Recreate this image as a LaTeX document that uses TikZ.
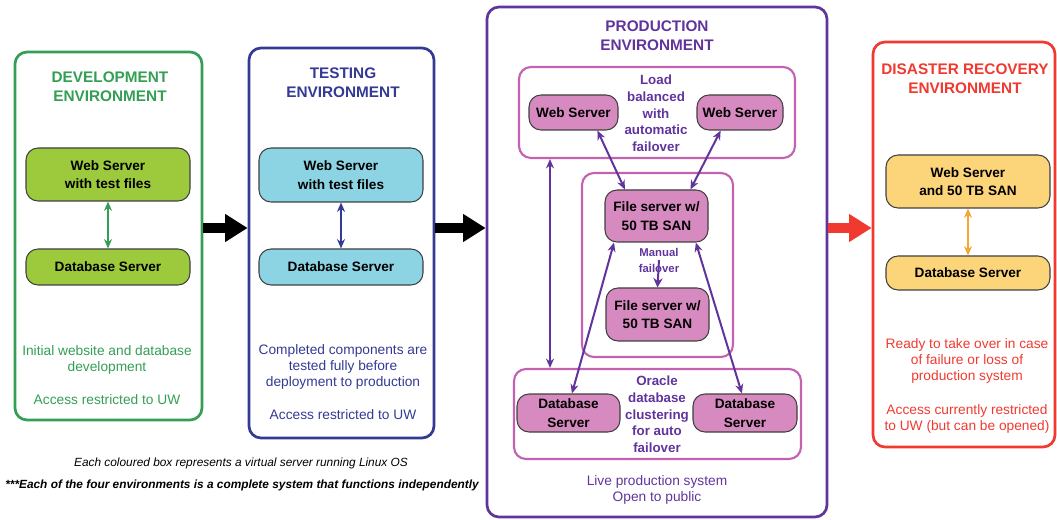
\documentclass[tikz,border=0pt]{standalone}
\usepackage{fontspec}
\setmainfont{Liberation Sans}
\usetikzlibrary{arrows.meta,fit}

\definecolor{devgreen}{RGB}{52,158,84}
\definecolor{devfill}{RGB}{156,202,60}
\definecolor{testblue}{RGB}{52,58,148}
\definecolor{testfill}{RGB}{140,212,228}
\definecolor{prodpurple}{RGB}{96,52,156}
\definecolor{prodpink}{RGB}{196,98,178}
\definecolor{prodfill}{RGB}{214,138,192}
\definecolor{drred}{RGB}{240,58,48}
\definecolor{drfill}{RGB}{252,212,122}
\definecolor{drorange}{RGB}{244,166,52}

\tikzset{
	envbox/.style={draw=#1, line width=2pt, rounded corners=9pt, inner sep=0pt},
	groupbox/.style={draw=prodpink, line width=1.6pt, rounded corners=9pt, inner sep=0pt},
	server/.style={draw=black!75, line width=0.8pt, fill=#1, rounded corners=9pt,
		align=center, inner sep=0pt, font=\fontsize{10.2}{14}\selectfont\bfseries},
	envtitle/.style={text=#1, align=center, font=\fontsize{11.5}{14.25}\selectfont\bfseries},
	envnote/.style={text=#1, align=center, font=\fontsize{10.3}{12}\selectfont},
	groupnote/.style={text=prodpurple, align=center, font=\fontsize{10}{12.5}\selectfont\bfseries},
	footnote/.style={align=center, font=\fontsize{8.9}{10}\selectfont\itshape},
	link/.style={{Stealth[length=7pt,width=6pt]}-{Stealth[length=7pt,width=6pt]}, draw=#1, line width=1.5pt},
	flow/.style={-{Triangle[length=17pt,width=20pt]}, draw=#1, line width=7pt},
}

\begin{document}
\begin{tikzpicture}[x=0.75pt, y=-0.75pt]
	\useasboundingbox (0,0) rectangle (1057,520);

	% Umgebungen
	\node[envbox=devgreen, fit={(15,52) (202,420)}] (dev) {};
	\node[envbox=testblue, fit={(249,48) (434,438)}] (test) {};
	\node[envbox=prodpurple, fit={(487,7) (827,517)}] (prod) {};
	\node[envbox=drred, fit={(873,42) (1055,447)}] (dr) {};

	% Titel
	\node[envtitle=devgreen] (devtitle) at (110,87) {DEVELOPMENT\\ENVIRONMENT};
	\node[envtitle=testblue] (testtitle) at (343,83) {TESTING\\ENVIRONMENT};
	\node[envtitle=prodpurple] (prodtitle) at (657,36) {PRODUCTION\\ENVIRONMENT};
	\node[envtitle=drred] (drtitle) at (965,79) {DISASTER RECOVERY\\ENVIRONMENT};

	% Entwicklung
	\node[server=devfill, minimum width=123pt, minimum height=39.75pt] (devweb) at (108,174.5)
		{Web Server\\with test files};
	\node[server=devfill, minimum width=123pt, minimum height=27pt] (devdb) at (108,267)
		{Database Server};
	\draw[link=devgreen] (devweb) -- (devdb);
	\node[envnote=devgreen] (devnote) at (107,359.5) {Initial website and database\\development};
	\node[envnote=devgreen] (devaccess) at (107,400) {Access restricted to UW};

	% Test
	\node[server=testfill, minimum width=123pt, minimum height=40.5pt] (testweb) at (341,175)
		{Web Server\\with test files};
	\node[server=testfill, minimum width=123pt, minimum height=27pt] (testdb) at (341,267)
		{Database Server};
	\draw[link=testblue] (testweb) -- (testdb);
	\node[envnote=testblue] (testnote) at (343,367)
		{Completed components are\\tested fully before\\deployment to production};
	\node[envnote=testblue] (testaccess) at (343,415) {Access restricted to UW};

	% Produktion: Gruppen
	\node[groupbox, fit={(519,67) (795,158)}] (upper) {};
	\node[groupbox, fit={(582,173) (733,357)}] (middle) {};
	\node[groupbox, fit={(514,369) (801,459)}] (lower) {};

	% Produktion: Server
	\node[server=prodfill, minimum width=66.75pt, minimum height=26.25pt] (webl) at (573.5,112.5) {Web Server};
	\node[server=prodfill, minimum width=64.5pt, minimum height=26.25pt] (webr) at (740,112.5) {Web Server};
	\node[server=prodfill, minimum width=77.25pt, minimum height=39pt] (file1) at (656.5,216)
		{File server w/\\50 TB SAN};
	\node[server=prodfill, minimum width=77.25pt, minimum height=39.75pt] (file2) at (657.5,314.5)
		{File server w/\\50 TB SAN};
	\node[server=prodfill, minimum width=77.25pt, minimum height=28.5pt] (dbl) at (568.5,413)
		{Database\\Server};
	\node[server=prodfill, minimum width=78pt, minimum height=28.5pt] (dbr) at (745,413)
		{Database\\Server};

	% Produktion: Texte
	\node[groupnote] (loadnote) at (656,113.5) {Load\\balanced\\with\\automatic\\failover};
	\node[groupnote] (oraclenote) at (657,414.5) {Oracle\\database\\clustering\\for auto\\failover};
	\node[groupnote, font=\fontsize{8.5}{12}\selectfont\bfseries] (manual) at (659,260) {Manual\\failover};
	\node[envnote=prodpurple] (prodnote) at (657,489.5) {Live production system\\Open to public};

	% Produktion: Verbindungen
	\coordinate (lb) at (550,260);
	\draw[link=prodpurple] (lb |- upper.south) -- (lb |- lower.north);
	\draw[link=prodpurple] (webl.-37) -- (file1.140);
	\draw[link=prodpurple] (webr.-137) -- (file1.38);
	\draw[link=prodpurple] (dbl.80) -- (file1.-148);
	\draw[link=prodpurple] (dbr.99) -- (file1.-34);
	\draw[-{Stealth[length=7pt,width=7pt]}, draw=prodpurple, line width=1.5pt] (manual.center) -- (file2.north);

	% Notfall
	\node[server=drfill, minimum width=123pt, minimum height=39.75pt] (drweb) at (968,181.5)
		{Web Server\\and 50 TB SAN};
	\node[server=drfill, minimum width=123pt, minimum height=25.5pt] (drdb) at (968,273)
		{Database Server};
	\draw[link=drorange] (drweb) -- (drdb);
	\node[envnote=drred] (drnote) at (967,361)
		{Ready to take over in case\\of failure or loss of\\production system};
	\node[envnote=drred] (draccess) at (967,418.5)
		{Access currently restricted\\to UW (but can be opened)};

	% Pfeile zwischen Umgebungen
	\coordinate (flowy) at (0,228);
	\draw[flow=black] (dev.east |- flowy) -- (test.west |- flowy);
	\draw[flow=black] (test.east |- flowy) -- (prod.west |- flowy);
	\draw[flow=drred] (prod.east |- flowy) -- (dr.west |- flowy);

	% Fussnoten
	\node[footnote] (note1) at (241,463) {Each coloured box represents a virtual server running Linux OS};
	\node[footnote, font=\fontsize{8.9}{10}\selectfont\itshape\bfseries] (note2) at (242,485)
		{***Each of the four environments is a complete system that functions independently};
\end{tikzpicture}
\end{document}
